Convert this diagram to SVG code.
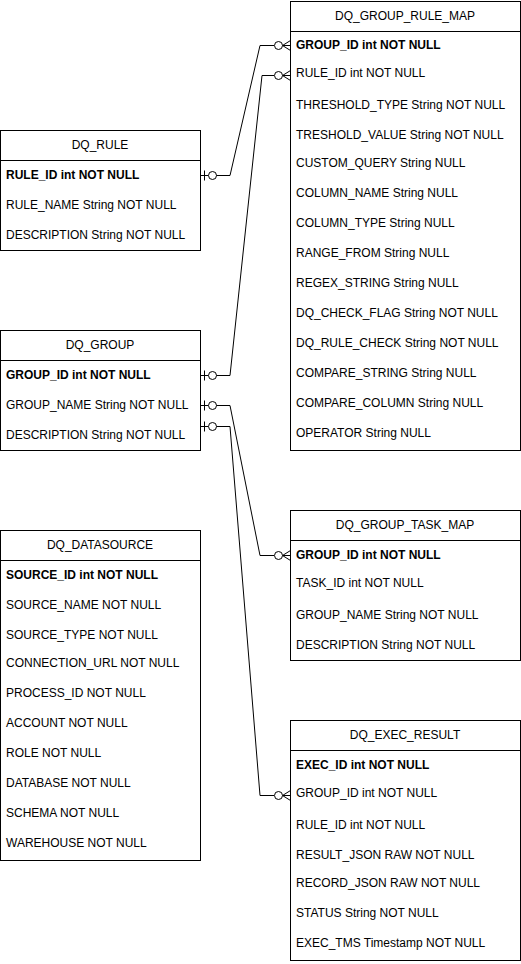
<svg xmlns="http://www.w3.org/2000/svg" width="521" height="964" viewBox="0 0 521 964">
<style>
.box{fill:#fff;stroke:#000;stroke-width:1}
.sep{stroke:#000;stroke-width:1}
text{font-family:"Liberation Sans",Arial,sans-serif;font-size:12px;fill:#000}
.t{text-anchor:middle}
.pk{font-weight:bold}
.edge{fill:none;stroke:#000;stroke-width:1}
.mk{fill:#fff;stroke:#000;stroke-width:1}
</style>
<rect width="521" height="964" fill="#fff"/>
<g id="DQ_GROUP_RULE_MAP">
<rect class="box" x="290.5" y="1.5" width="230" height="449"/>
<line class="sep" x1="290.5" y1="31.5" x2="520.5" y2="31.5"/>
<text class="t" x="405" y="20">DQ_GROUP_RULE_MAP</text>
<text class="pk" x="296" y="49">GROUP_ID int NOT NULL</text>
<text x="296" y="77">RULE_ID int NOT NULL</text>
<text x="296" y="109">THRESHOLD_TYPE String NOT NULL</text>
<text x="296" y="139">TRESHOLD_VALUE String NOT NULL</text>
<text x="296" y="167">CUSTOM_QUERY String NULL</text>
<text x="296" y="197">COLUMN_NAME String NULL</text>
<text x="296" y="227">COLUMN_TYPE String NULL</text>
<text x="296" y="257">RANGE_FROM String NULL</text>
<text x="296" y="287">REGEX_STRING String NULL</text>
<text x="296" y="317">DQ_CHECK_FLAG String NOT NULL</text>
<text x="296" y="347">DQ_RULE_CHECK String NOT NULL</text>
<text x="296" y="377">COMPARE_STRING String NULL</text>
<text x="296" y="407">COMPARE_COLUMN String NULL</text>
<text x="296" y="437">OPERATOR String NULL</text>
</g>
<g id="DQ_RULE">
<rect class="box" x="0.5" y="130.5" width="200" height="120"/>
<line class="sep" x1="0.5" y1="160.5" x2="200.5" y2="160.5"/>
<text class="t" x="100" y="149">DQ_RULE</text>
<text class="pk" x="6" y="179">RULE_ID int NOT NULL</text>
<text x="6" y="209">RULE_NAME String NOT NULL</text>
<text x="6" y="239">DESCRIPTION String NOT NULL</text>
</g>
<g id="DQ_GROUP">
<rect class="box" x="0.5" y="330.5" width="200" height="120"/>
<line class="sep" x1="0.5" y1="360.5" x2="200.5" y2="360.5"/>
<text class="t" x="100" y="349">DQ_GROUP</text>
<text class="pk" x="6" y="379">GROUP_ID int NOT NULL</text>
<text x="6" y="409">GROUP_NAME String NOT NULL</text>
<text x="6" y="439">DESCRIPTION String NOT NULL</text>
</g>
<g id="DQ_DATASOURCE">
<rect class="box" x="0.5" y="530.5" width="200" height="330"/>
<line class="sep" x1="0.5" y1="560.5" x2="200.5" y2="560.5"/>
<text class="t" x="100" y="549">DQ_DATASOURCE</text>
<text class="pk" x="6" y="579">SOURCE_ID int NOT NULL</text>
<text x="6" y="609">SOURCE_NAME NOT NULL</text>
<text x="6" y="639">SOURCE_TYPE NOT NULL</text>
<text x="6" y="667">CONNECTION_URL NOT NULL</text>
<text x="6" y="697">PROCESS_ID NOT NULL</text>
<text x="6" y="727">ACCOUNT NOT NULL</text>
<text x="6" y="757">ROLE NOT NULL</text>
<text x="6" y="787">DATABASE NOT NULL</text>
<text x="6" y="817">SCHEMA NOT NULL</text>
<text x="6" y="847">WAREHOUSE NOT NULL</text>
</g>
<g id="DQ_GROUP_TASK_MAP">
<rect class="box" x="290.5" y="510.5" width="230" height="150"/>
<line class="sep" x1="290.5" y1="540.5" x2="520.5" y2="540.5"/>
<text class="t" x="405" y="529">DQ_GROUP_TASK_MAP</text>
<text class="pk" x="296" y="559">GROUP_ID int NOT NULL</text>
<text x="296" y="587">TASK_ID int NOT NULL</text>
<text x="296" y="619">GROUP_NAME String NOT NULL</text>
<text x="296" y="649">DESCRIPTION String NOT NULL</text>
</g>
<g id="DQ_EXEC_RESULT">
<rect class="box" x="290.5" y="720.5" width="230" height="240"/>
<line class="sep" x1="290.5" y1="750.5" x2="520.5" y2="750.5"/>
<text class="t" x="405" y="739">DQ_EXEC_RESULT</text>
<text class="pk" x="296" y="769">EXEC_ID int NOT NULL</text>
<text x="296" y="797">GROUP_ID int NOT NULL</text>
<text x="296" y="829">RULE_ID int NOT NULL</text>
<text x="296" y="859">RESULT_JSON RAW NOT NULL</text>
<text x="296" y="887">RECORD_JSON RAW NOT NULL</text>
<text x="296" y="917">STATUS String NOT NULL</text>
<text x="296" y="947">EXEC_TMS Timestamp NOT NULL</text>
</g>
<defs>
<g id="src">
<line class="edge" x1="0" y1="0" x2="8" y2="0"/>
<line class="edge" x1="4" y1="-5" x2="4" y2="5"/>
<circle class="mk" cx="12" cy="0" r="4"/>
</g>
<g id="dst">
<line class="edge" x1="-8" y1="0" x2="0" y2="0"/>
<path class="edge" d="M0,-5 L-8,0 L0,5"/>
<circle class="mk" cx="-12" cy="0" r="4"/>
</g>
</defs>
<g id="connectors">
<polyline class="edge" points="216,175.5 230,175.5 260,45.5 274,45.5"/>
<polyline class="edge" points="216,375.5 230,375.5 262,75.5 274,75.5"/>
<polyline class="edge" points="216,405.5 230,405.5 260,555.5 274,555.5"/>
<polyline class="edge" points="216,426.5 230,426.5 260,795.5 274,795.5"/>
<use href="#src" x="200.5" y="175.5"/>
<use href="#src" x="200.5" y="375.5"/>
<use href="#src" x="200.5" y="405.5"/>
<use href="#src" x="200.5" y="426.5"/>
<use href="#dst" x="290.5" y="45.5"/>
<use href="#dst" x="290.5" y="75.5"/>
<use href="#dst" x="290.5" y="555.5"/>
<use href="#dst" x="290.5" y="795.5"/>
</g>
</svg>
